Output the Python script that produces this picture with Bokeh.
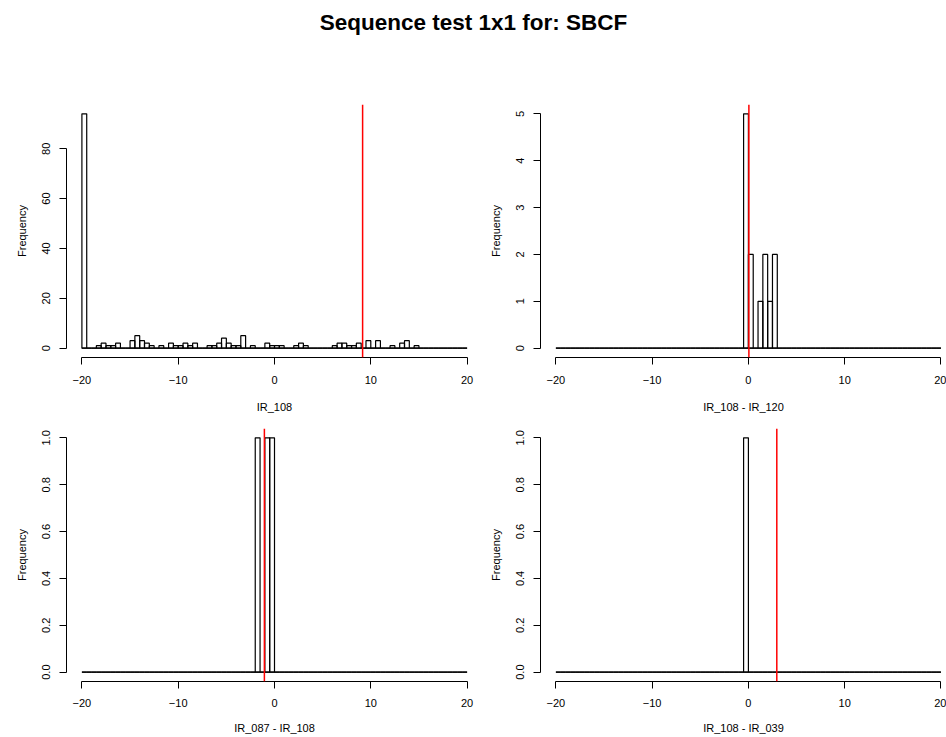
import numpy as np
from bokeh.plotting import figure
from bokeh.models import Span, FixedTicker, PrintfTickFormatter, Label, ColumnDataSource
from bokeh.layouts import column, row
from bokeh.embed import file_html
from bokeh.resources import INLINE

TITLE = "Sequence test 1x1 for: SBCF"
BIN_START = -20.0
BIN_WIDTH = 0.5
N_BINS = 80

counts_ir108 = [
    94, 0, 0, 1, 2, 1, 1, 2, 0, 0,
    3, 5, 3, 2, 1, 0, 1, 0, 2, 1,
    1, 2, 1, 2, 0, 0, 1, 1, 2, 4,
    2, 1, 1, 5, 0, 1, 0, 0, 2, 1,
    1, 1, 0, 0, 1, 2, 1, 0, 0, 0,
    0, 0, 1, 2, 2, 1, 1, 2, 0, 3,
    0, 3, 0, 0, 1, 0, 2, 3, 0, 1,
    0, 0, 0, 0, 0, 0, 0, 0, 0, 0,
]
counts_108_120 = [
    0, 0, 0, 0, 0, 0, 0, 0, 0, 0,
    0, 0, 0, 0, 0, 0, 0, 0, 0, 0,
    0, 0, 0, 0, 0, 0, 0, 0, 0, 0,
    0, 0, 0, 0, 0, 0, 0, 0, 0, 5,
    2, 0, 1, 2, 1, 2, 0, 0, 0, 0,
    0, 0, 0, 0, 0, 0, 0, 0, 0, 0,
    0, 0, 0, 0, 0, 0, 0, 0, 0, 0,
    0, 0, 0, 0, 0, 0, 0, 0, 0, 0,
]
counts_087_108 = [
    0, 0, 0, 0, 0, 0, 0, 0, 0, 0,
    0, 0, 0, 0, 0, 0, 0, 0, 0, 0,
    0, 0, 0, 0, 0, 0, 0, 0, 0, 0,
    0, 0, 0, 0, 0, 0, 1, 0, 1, 1,
    0, 0, 0, 0, 0, 0, 0, 0, 0, 0,
    0, 0, 0, 0, 0, 0, 0, 0, 0, 0,
    0, 0, 0, 0, 0, 0, 0, 0, 0, 0,
    0, 0, 0, 0, 0, 0, 0, 0, 0, 0,
]
counts_108_039 = [
    0, 0, 0, 0, 0, 0, 0, 0, 0, 0,
    0, 0, 0, 0, 0, 0, 0, 0, 0, 0,
    0, 0, 0, 0, 0, 0, 0, 0, 0, 0,
    0, 0, 0, 0, 0, 0, 0, 0, 0, 1,
    0, 0, 0, 0, 0, 0, 0, 0, 0, 0,
    0, 0, 0, 0, 0, 0, 0, 0, 0, 0,
    0, 0, 0, 0, 0, 0, 0, 0, 0, 0,
    0, 0, 0, 0, 0, 0, 0, 0, 0, 0,
]
red_values = [9.15, 0.05, -1.05, 2.95]
x_labels = ["IR_108", "IR_108 - IR_120", "IR_087 - IR_108", "IR_108 - IR_039"]
y_label = "Frequency"
x_ticks = [-20, -10, 0, 10, 20]
y_ticks_tl = [0, 20, 40, 60, 80]
y_ticks_tr = [0, 1, 2, 3, 4, 5]
y_ticks_bottom = [0.0, 0.2, 0.4, 0.6, 0.8, 1.0]

FONT = "Liberation Sans"


def panel(counts, red, xlabel, yticks, yfmt, width, height, mb_left, mb_top, mb_bottom, x_end,
          label_standoff, axis_label_standoff):
    left = BIN_START + BIN_WIDTH * np.arange(N_BINS)
    right = left + BIN_WIDTH
    c = np.array(counts, dtype=float)
    ymax = c.max()
    xr = (BIN_START - 0.04 * (N_BINS * BIN_WIDTH), x_end)
    yr = (-0.04 * ymax, 1.04 * ymax)
    p = figure(width=width, height=height, x_range=xr, y_range=yr,
               output_backend="svg", toolbar_location=None,
               min_border_left=mb_left, min_border_right=0,
               min_border_top=mb_top, min_border_bottom=mb_bottom)
    p.outline_line_color = None
    p.grid.visible = False
    p.background_fill_color = "white"
    p.border_fill_color = "white"
    src = ColumnDataSource(dict(left=left, right=right, top=c, bottom=np.zeros(N_BINS)))
    p.quad(left="left", right="right", top="top", bottom="bottom", source=src,
           fill_color=None, line_color="black", line_width=1.2)
    p.segment(x0=[left[0]], y0=[0], x1=[right[-1]], y1=[0], line_color="black", line_width=1.2)
    p.add_layout(Span(location=red, dimension="height", line_color="red", line_width=1.5))

    for ax in (p.xaxis[0], p.yaxis[0]):
        ax.axis_line_color = "black"
        ax.major_tick_line_color = "black"
        ax.major_tick_out = 7
        ax.major_tick_in = 0
        ax.minor_tick_line_color = None
        ax.major_label_text_font = FONT
        ax.major_label_text_font_size = "11px"
        ax.major_label_text_color = "black"
        ax.axis_label_text_font = FONT
        ax.axis_label_text_font_size = "11px"
        ax.axis_label_text_font_style = "normal"
        ax.axis_label_text_color = "black"
    xa = p.xaxis[0]
    xa.ticker = FixedTicker(ticks=x_ticks)
    xa.bounds = (x_ticks[0], x_ticks[-1])
    xa.axis_label = xlabel
    xa.major_label_standoff = label_standoff
    xa.axis_label_standoff = axis_label_standoff
    ya = p.yaxis[0]
    ya.ticker = FixedTicker(ticks=yticks)
    ya.bounds = (yticks[0], yticks[-1])
    ya.axis_label = y_label
    ya.major_label_orientation = "vertical"
    ya.major_label_standoff = 9
    ya.axis_label_standoff = 12
    if yfmt:
        ya.formatter = PrintfTickFormatter(format=yfmt)
    return p


tf = figure(width=946, height=70, output_backend="svg", toolbar_location=None,
            min_border=0, x_range=(0, 1), y_range=(0, 1))
tf.axis.visible = False
tf.grid.visible = False
tf.outline_line_color = None
tf.add_layout(Label(x=473, y=48, x_units="screen", y_units="screen", text=TITLE,
                    text_align="center", text_baseline="middle", text_font=FONT,
                    text_font_size="22.5px", text_font_style="bold", text_color="black"))

p1 = panel(counts_ir108, red_values[0], x_labels[0], y_ticks_tl, None, 482, 347, 66, 34, 60, 21.6, 11, 14)
p2 = panel(counts_108_120, red_values[1], x_labels[1], y_ticks_tr, None, 464, 347, 58, 34, 60, 20.58, 11, 14)
p3 = panel(counts_087_108, red_values[2], x_labels[2], y_ticks_bottom, "%.1f", 482, 320, 66, 11, 56, 21.6, 10, 12)
p4 = panel(counts_108_039, red_values[3], x_labels[3], y_ticks_bottom, "%.1f", 464, 320, 58, 11, 56, 20.58, 10, 12)

layout = column(tf, row(p1, p2), row(p3, p4))
open("out.html", "w").write(file_html(layout, INLINE))
